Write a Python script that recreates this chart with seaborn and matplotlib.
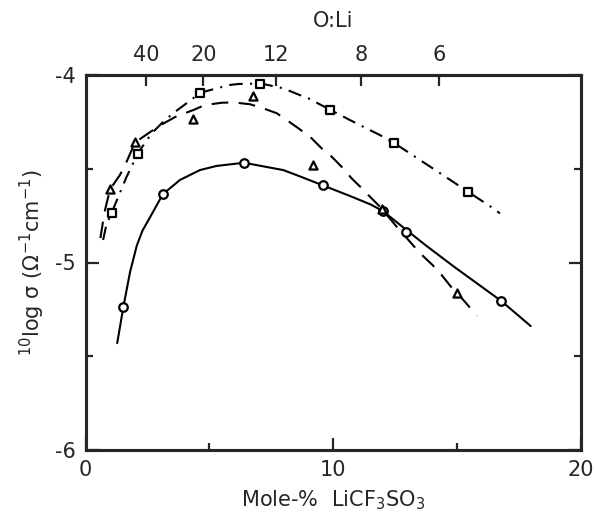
import numpy as np
import pandas as pd
import matplotlib
matplotlib.use("Agg")
import matplotlib.pyplot as plt
import seaborn as sns

# ---- data ----
# measured points (Mole-% LiCF3SO3, 10log sigma)
circ_x = [1.53, 3.12, 6.38, 9.57, 12.0, 12.94, 16.77]
circ_y = [-5.236, -4.636, -4.468, -4.588, -4.725, -4.835, -5.204]
tri_x = [0.99, 2.0, 4.35, 6.75, 9.2, 11.98, 15.01]
tri_y = [-4.61, -4.356, -4.237, -4.114, -4.478, -4.713, -5.164]
sq_x = [1.07, 2.1, 4.62, 7.05, 9.85, 12.44, 15.43]
sq_y = [-4.737, -4.42, -4.094, -4.046, -4.184, -4.362, -4.623]

# hand-drawn curves, points
solid_x = [1.28, 1.53, 1.80, 2.07, 2.3, 2.6, 3.12, 3.81, 4.62, 5.29, 6.4, 7.98, 8.66,
           9.57, 10.67, 11.5, 12.0, 12.94, 13.7, 14.9, 16.77, 17.97]
solid_y = [-5.43, -5.236, -5.05, -4.91, -4.83, -4.76, -4.636, -4.56, -4.507, -4.485,
           -4.468, -4.507, -4.541, -4.588, -4.645, -4.69, -4.725, -4.825, -4.905,
           -5.025, -5.204, -5.339]
dash_x = [0.6, 0.77, 0.99, 1.39, 1.66, 2.0, 2.6, 3.1, 3.65, 4.35, 4.82, 5.5, 5.97,
          6.64, 7.18, 7.72, 8.12, 8.59, 9.06, 9.53, 9.94, 10.4, 10.74, 11.15, 11.48,
          11.88, 12.56, 13.5, 14.0, 14.37, 14.75, 15.01, 15.37, 15.79]
dash_y = [-4.87, -4.73, -4.61, -4.533, -4.462, -4.36, -4.305, -4.262, -4.222, -4.187,
          -4.16, -4.148, -4.146, -4.156, -4.178, -4.204, -4.24, -4.284, -4.329,
          -4.391, -4.436, -4.498, -4.551, -4.604, -4.649, -4.702, -4.809, -4.95,
          -5.0125, -5.066, -5.129, -5.164, -5.218, -5.284]
dd_x = [0.71, 0.84, 1.04, 1.66, 1.86, 2.1, 2.67, 3.21, 3.68, 4.29, 4.62, 5.3, 5.83,
        6.17, 7.07, 7.98, 8.65, 8.99, 9.84, 10.67, 11.21, 11.88, 12.45, 12.83, 13.3,
        14.04, 14.44, 15.43, 16.33, 16.73]
dd_y = [-4.88, -4.80, -4.74, -4.542, -4.489, -4.42, -4.311, -4.24, -4.19, -4.13,
        -4.095, -4.071, -4.053, -4.048, -4.045, -4.071, -4.107, -4.124, -4.183,
        -4.24, -4.276, -4.32, -4.362, -4.395, -4.436, -4.50, -4.535, -4.622, -4.70,
        -4.738]

x_ticks = [0, 10, 20]
y_ticks = [-6, -5, -4]
ratio_ticks = [40, 20, 12, 8, 6]

# ---- styling ----
sns.set_style("ticks")
plt.rcParams['font.family'] = ['DejaVu Sans']
plt.rcParams['mathtext.fontset'] = 'dejavusans'
FS = 15

fig = plt.figure(figsize=(5.96, 5.16), dpi=100)
ax = fig.add_axes([85.5 / 596, 66 / 516, 495.5 / 596, 375 / 516])

lw = 1.5
sns.lineplot(x=solid_x, y=solid_y, ax=ax, color='black', lw=lw, sort=False,
             estimator=None)
sns.lineplot(x=dash_x, y=dash_y, ax=ax, color='black', lw=lw, sort=False,
             estimator=None)
ax.lines[-1].set_dashes((8, 5))
sns.lineplot(x=dd_x, y=dd_y, ax=ax, color='black', lw=lw, sort=False,
             estimator=None)
ax.lines[-1].set_dashes((6.5, 3.5, 1, 3.5))

mk = dict(facecolor='white', edgecolor='black', linewidth=1.6, zorder=5, ax=ax)
sns.scatterplot(x=circ_x, y=circ_y, marker='o', s=38, **mk)
sns.scatterplot(x=tri_x, y=tri_y, marker='^', s=34, **mk)
sns.scatterplot(x=sq_x, y=sq_y, marker='s', s=40, **mk)

ax.set_xlim(0, 20)
ax.set_ylim(-6, -4)
ax.set_xticks(x_ticks)
ax.set_xticks([5, 15], minor=True)
ax.set_yticks(y_ticks)
ax.set_yticks([-5.5, -4.5], minor=True)
ax.set_yticklabels([str(v) for v in y_ticks])
ax.tick_params(which='major', direction='in', length=9, width=1.6,
               labelsize=FS, pad=7, right=True, top=False)
ax.tick_params(which='minor', direction='in', length=5, width=1.6,
               right=True, top=False)
for s in ax.spines.values():
    s.set_linewidth(2.2)
    s.set_color('black')

ax.set_xlabel("Mole-%  LiCF$_3$SO$_3$", fontsize=FS, labelpad=6)
ax.set_ylabel("$^{10}$log σ (Ω$^{-1}$cm$^{-1}$)", fontsize=FS, labelpad=6)

ax2 = ax.twiny()
ax2.set_xlim(ax.get_xlim())
ax2.set_xticks([100.0 / (n + 1) for n in ratio_ticks])
ax2.set_xticklabels([str(n) for n in ratio_ticks])
ax2.tick_params(direction='in', length=8, width=1.6, labelsize=FS, pad=7)
ax2.set_xlabel("O:Li", fontsize=FS, labelpad=13)
for s in ax2.spines.values():
    s.set_linewidth(2.2)

fig.savefig("out.png", dpi=100)
